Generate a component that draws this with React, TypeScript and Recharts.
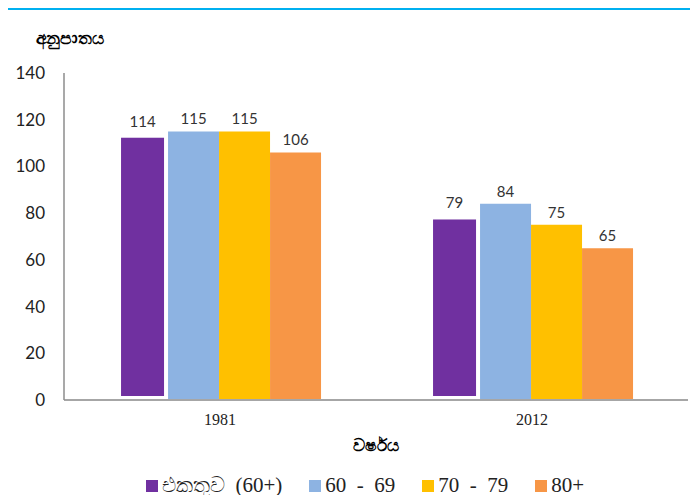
import React from 'react';
import { BarChart, Bar, XAxis, YAxis, LabelList } from 'recharts';

// values
const years = ['1981', '2012'];
const total60 = [114, 79];
const age6069 = [115, 84];
const age7079 = [115, 75];
const age80 = [106, 65];
const yTicks = [0, 20, 40, 60, 80, 100, 120, 140];

const series = [
  { key: 'total60', name: 'එකතුව  (60+)', color: '#7030a0' },
  { key: 'age6069', name: '60  -  69', color: '#8db3e2' },
  { key: 'age7079', name: '70  -  79', color: '#ffc000' },
  { key: 'age80', name: '80+', color: '#f79646' },
];

const data = years.map((year, i) => ({
  year,
  total60: total60[i],
  age6069: age6069[i],
  age7079: age7079[i],
  age80: age80[i],
}));

const numFont = 'Lato, "Open Sans", sans-serif';
const serifFont = '"Liberation Serif", "DejaVu Serif", serif';

// the first series is drawn with a white inset, like the source chart
const InsetBar = (props: any) => {
  const { x, y, width, height, fill } = props;
  const inset = 4;
  return (
    <rect
      x={x + inset}
      y={y + inset}
      width={Math.max(width - inset * 2, 0)}
      height={Math.max(height - inset * 2, 0)}
      fill={fill}
    />
  );
};

export default function App() {
  return (
    <div
      style={{
        position: 'relative',
        width: 698,
        height: 503,
        margin: -8,
        overflow: 'hidden',
        background: '#fff',
      }}
    >
      <div
        style={{
          position: 'absolute',
          left: 5,
          top: 7,
          width: 700,
          height: 500,
          borderTop: '3px solid #00b0f0',
          borderLeft: '3px solid #00b0f0',
        }}
      />
      <div
        style={{
          position: 'absolute',
          left: 36,
          top: 27,
          fontSize: 17,
          fontWeight: 'bold',
          fontFamily: numFont,
          color: '#000',
        }}
      >
        අනුපාතය
      </div>
      <div style={{ position: 'absolute', left: 0, top: 0 }}>
        <BarChart
          width={698}
          height={503}
          data={data}
          margin={{ top: 73, right: 10, bottom: 73, left: 0 }}
          barCategoryGap="17%"
          barGap={0}
        >
          <XAxis
            dataKey="year"
            height={30}
            axisLine={{ stroke: '#a6a6a6', strokeWidth: 2 }}
            tickLine={false}
            tickSize={0}
            tickMargin={14}
            tick={{ fontSize: 16, fill: '#222', fontFamily: serifFont }}
          />
          <YAxis
            width={64}
            domain={[0, 140]}
            ticks={yTicks}
            interval={0}
            axisLine={{ stroke: '#8c8c8c', strokeWidth: 1.5 }}
            tickLine={false}
            tickSize={0}
            tickMargin={19}
            tick={{ fontSize: 17, fill: '#222', fontFamily: numFont }}
          />
          {series.map((s, idx) => (
            <Bar
              key={s.key}
              dataKey={s.key}
              name={s.name}
              fill={s.color}
              isAnimationActive={false}
              shape={idx === 0 ? InsetBar : undefined}
            >
              <LabelList
                dataKey={s.key}
                position="top"
                offset={7}
                style={{ fontSize: 15, fill: '#333', fontFamily: numFont }}
              />
            </Bar>
          ))}
        </BarChart>
      </div>
      <div
        style={{
          position: 'absolute',
          left: 0,
          width: 752,
          top: 434,
          textAlign: 'center',
          fontSize: 17,
          fontWeight: 'bold',
          fontFamily: numFont,
          color: '#000',
        }}
      >
        වර්ෂය
      </div>
      <div
        style={{
          position: 'absolute',
          left: 146,
          top: 473,
          display: 'flex',
          alignItems: 'center',
          fontFamily: serifFont,
          fontSize: 21,
          color: '#222',
          whiteSpace: 'pre',
        }}
      >
        {series.map((s, i) => (
          <div
            key={s.key}
            style={{
              display: 'flex',
              alignItems: 'center',
              marginRight: i === series.length - 1 ? 0 : 27,
            }}
          >
            <span
              style={{
                display: 'inline-block',
                width: 12,
                height: 12,
                background: s.color,
                marginRight: 4,
              }}
            />
            <span>{s.name}</span>
          </div>
        ))}
      </div>
    </div>
  );
}
